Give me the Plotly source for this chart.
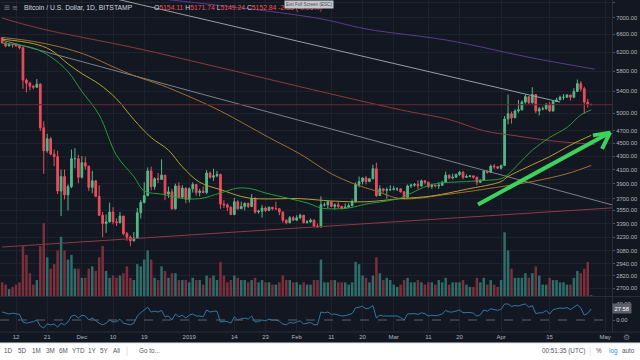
import pandas as pd
import plotly.graph_objects as go

# ---------------- data ----------------
dates = pd.date_range("2018-11-08", "2019-04-27", freq="D")

close_nov = [6410, 6340, 6370, 6360, 6340, 6300, 5620, 5560, 5500, 5480, 5540, 4750, 4380, 4570, 4330, 4290, 3800, 4000, 3750, 3860, 4260, 4260, 3990]
close_dec = [4200, 4150, 3850, 3940, 3730, 3490, 3390, 3410, 3530, 3410, 3400, 3480, 3270, 3230, 3190, 3220, 3520, 3650, 3740, 4080, 3860, 3970, 3960, 4020, 3760, 3790, 3570, 3870, 3720, 3840, 3690]
close_jan = [3830, 3890, 3780, 3800, 3780, 4050, 3990, 4010, 4030, 3630, 3620, 3590, 3500, 3660, 3570, 3600, 3640, 3600, 3700, 3530, 3540, 3580, 3550, 3590, 3570, 3570, 3530, 3430, 3400, 3460, 3430]
close_feb = [3460, 3490, 3400, 3410, 3430, 3360, 3350, 3620, 3620, 3660, 3600, 3620, 3600, 3580, 3590, 3610, 3660, 3890, 3930, 3980, 3930, 3970, 4110, 3740, 3830, 3810, 3820, 3820]
close_mar = [3830, 3830, 3790, 3720, 3870, 3880, 3890, 3870, 3940, 3920, 3860, 3880, 3870, 3880, 3920, 4020, 3980, 3990, 4030, 4060, 3990, 4000, 4010, 3990, 3920, 3950, 4080, 4060, 4150, 4140, 4120]
close_apr = [4160, 4900, 4990, 4920, 5040, 5060, 5200, 5300, 5190, 5340, 5040, 5080, 5080, 5160, 5040, 5210, 5240, 5290, 5290, 5330, 5290, 5400, 5550, 5450, 5200, 5155.17, 5152.84]

high_nov = [6540, 6430, 6400, 6390, 6400, 6350, 6320, 5650, 5590, 5520, 5640, 5560, 4860, 4650, 4600, 4400, 4380, 4100, 4100, 3890, 4400, 4420, 4320]
high_dec = [4300, 4290, 4150, 4080, 3950, 3880, 3530, 3500, 3650, 3590, 3450, 3530, 3480, 3290, 3250, 3290, 3580, 3680, 3920, 4130, 4140, 3990, 4050, 4250, 4020, 3860, 3830, 3900, 3920, 3880, 3850]
high_jan = [3850, 3920, 3890, 3830, 3860, 4090, 4070, 4110, 4080, 4040, 3680, 3640, 3600, 3710, 3680, 3660, 3650, 3650, 3760, 3720, 3560, 3620, 3600, 3600, 3590, 3660, 3580, 3530, 3440, 3480, 3480]
high_feb = [3490, 3510, 3490, 3430, 3450, 3440, 3390, 3730, 3650, 3670, 3660, 3640, 3660, 3610, 3640, 3640, 3690, 3920, 4000, 3990, 4010, 3980, 4170, 4200, 3880, 3840, 3850, 3880]
high_mar = [3870, 3850, 3840, 3800, 3890, 3900, 3910, 3950, 3960, 3950, 3930, 3900, 3890, 3920, 3940, 4070, 4030, 4040, 4040, 4080, 4080, 4030, 4020, 4010, 4000, 3960, 4090, 4080, 4170, 4180, 4150]
high_apr = [4170, 4950, 5340, 5030, 5070, 5240, 5230, 5340, 5300, 5480, 5340, 5110, 5120, 5180, 5200, 5230, 5280, 5320, 5350, 5350, 5340, 5460, 5630, 5600, 5490, 5260, 5171.74]

low_nov = [6390, 6310, 6330, 6300, 6320, 6260, 5450, 5380, 5420, 5440, 5470, 4700, 4040, 4350, 4310, 4150, 3760, 3480, 3690, 3550, 3840, 4120, 3910]
low_dec = [3970, 4100, 3800, 3770, 3720, 3480, 3230, 3280, 3400, 3380, 3360, 3390, 3250, 3190, 3130, 3180, 3210, 3450, 3640, 3730, 3810, 3820, 3910, 3960, 3680, 3710, 3560, 3560, 3700, 3700, 3640]
low_jan = [3650, 3780, 3740, 3730, 3770, 3760, 3970, 3940, 3990, 3570, 3580, 3540, 3490, 3490, 3560, 3570, 3550, 3580, 3590, 3510, 3510, 3460, 3530, 3540, 3550, 3560, 3490, 3400, 3380, 3390, 3420]
low_feb = [3420, 3440, 3390, 3390, 3400, 3350, 3340, 3340, 3600, 3580, 3590, 3560, 3580, 3560, 3570, 3590, 3600, 3650, 3850, 3890, 3890, 3920, 3960, 3720, 3740, 3780, 3700, 3800]
low_mar = [3810, 3800, 3780, 3690, 3710, 3840, 3860, 3830, 3860, 3890, 3840, 3830, 3850, 3830, 3870, 3920, 3960, 3960, 3980, 4010, 3960, 3980, 3990, 3970, 3880, 3910, 3940, 4040, 4060, 4110, 4110]
low_apr = [4100, 4150, 4810, 4820, 4920, 5010, 5050, 5170, 5160, 5170, 5000, 4960, 5050, 5060, 5020, 5030, 5200, 5240, 5240, 5280, 5230, 5270, 5390, 5400, 4990, 5100, 5149.24]

first_open = 6530
last_open = 5154.11

vol_nov = [6, 5, 3, 4, 5, 6, 22, 18, 10, 5, 7, 22, 32, 17, 12, 14, 20, 26, 20, 16, 18, 12, 12]
vol_dec = [8, 8, 12, 13, 11, 17, 22, 11, 8, 9, 8, 9, 10, 13, 8, 7, 14, 13, 16, 20, 16, 8, 7, 13, 11, 8, 10, 10, 7, 7, 7]
vol_jan = [6, 8, 7, 7, 5, 9, 8, 9, 7, 15, 9, 6, 7, 9, 8, 7, 7, 6, 7, 8, 6, 7, 6, 6, 5, 5, 6, 9, 7, 7, 6]
vol_feb = [6, 5, 6, 5, 5, 7, 7, 16, 6, 6, 7, 7, 6, 6, 6, 5, 6, 15, 14, 9, 8, 6, 9, 17, 10, 7, 8, 7]
vol_mar = [5, 4, 5, 7, 8, 6, 6, 7, 6, 5, 6, 6, 5, 7, 6, 8, 5, 6, 6, 6, 7, 5, 4, 4, 8, 6, 8, 5, 7, 5, 4]
vol_apr = [7, 28, 20, 12, 8, 8, 8, 10, 8, 10, 13, 9, 5, 5, 8, 7, 7, 6, 6, 5, 5, 8, 11, 10, 12, 15, 0.4]

osc_nov = [20, 18, 15, 17, 16, 14, -5, -8, -6, -4, 0, -15, -20, -10, -12, -10, -18, -8, -12, -5, 10, 12, 5]
osc_dec = [12, 10, 0, 5, -2, -8, -12, -8, 0, -5, -4, 2, -8, -10, -12, -8, 10, 18, 25, 32, 20, 22, 20, 24, 8, 10, 0, 15, 8, 12, 5]
osc_jan = [12, 15, 10, 10, 8, 25, 20, 22, 22, -5, -3, -4, -8, 8, 0, 3, 5, 2, 10, -5, -4, 0, -2, 2, 0, 0, -3, -10, -12, -6, -8]
osc_feb = [-5, -2, -10, -8, -6, -12, -12, 20, 18, 20, 14, 15, 12, 10, 11, 13, 16, 30, 32, 34, 28, 30, 36, 5, 12, 10, 10, 10]
osc_mar = [11, 10, 6, 0, 15, 16, 16, 14, 18, 16, 10, 12, 11, 12, 15, 24, 20, 20, 23, 25, 18, 19, 19, 17, 10, 13, 25, 22, 28, 26, 24]
osc_apr = [27, 40, 40, 34, 36, 35, 38, 40, 32, 36, 16, 18, 18, 24, 15, 26, 28, 30, 29, 31, 26, 33, 38, 30, 12, 17, 27.58]

# moving-average curves read at sparse dates
ma_fast_dates = ["2018-11-08", "2018-11-17", "2018-11-22", "2018-11-27", "2018-12-01", "2018-12-06", "2018-12-11", "2018-12-16", "2018-12-19", "2018-12-24", "2018-12-29", "2019-01-04", "2019-01-10", "2019-01-15", "2019-01-19", "2019-01-23", "2019-01-30", "2019-02-04", "2019-02-08", "2019-02-11", "2019-02-16", "2019-02-21", "2019-02-27", "2019-03-03", "2019-03-12", "2019-03-22", "2019-03-27", "2019-04-01", "2019-04-03", "2019-04-06", "2019-04-10", "2019-04-15", "2019-04-20", "2019-04-24", "2019-04-27"]
ma_fast = [6400, 6290, 6100, 5790, 5400, 4970, 4310, 4000, 3800, 3760, 3710, 3700, 3775, 3840, 3830, 3775, 3700, 3645, 3580, 3570, 3580, 3630, 3670, 3710, 3890, 3930, 3945, 3970, 4030, 4180, 4390, 4590, 4755, 4970, 5060]

ma_mid_dates = ["2018-11-08", "2018-11-17", "2018-11-22", "2018-11-27", "2018-12-01", "2018-12-06", "2018-12-11", "2018-12-16", "2018-12-21", "2018-12-26", "2018-12-30", "2019-01-04", "2019-01-10", "2019-01-18", "2019-02-02", "2019-02-11", "2019-02-21", "2019-03-03", "2019-03-12", "2019-03-22", "2019-04-01", "2019-04-03", "2019-04-10", "2019-04-15", "2019-04-20", "2019-04-24", "2019-04-27"]
ma_mid = [6490, 6390, 6250, 5950, 5750, 5540, 5260, 4890, 4590, 4390, 4140, 3920, 3820, 3710, 3700, 3670, 3660, 3700, 3735, 3825, 3930, 4000, 4170, 4290, 4440, 4550, 4625]

ma_slow_dates = ["2018-11-08", "2018-11-17", "2018-11-27", "2018-12-03", "2018-12-10", "2018-12-16", "2018-12-24", "2018-12-31", "2019-01-10", "2019-01-24", "2019-02-02", "2019-02-11", "2019-02-18", "2019-02-24", "2019-03-03", "2019-03-17", "2019-04-01", "2019-04-10", "2019-04-20", "2019-04-27"]
ma_slow = [6530, 6440, 6270, 6120, 5890, 5710, 5520, 5330, 5040, 4590, 4330, 4040, 3890, 3800, 3700, 3760, 3860, 3930, 4040, 4160]

ma_long_dates = ["2018-11-08", "2018-11-20", "2018-12-16", "2019-01-10", "2019-02-02", "2019-03-03", "2019-03-17", "2019-03-27", "2019-04-05", "2019-04-15", "2019-04-28"]
ma_long = [6990, 6720, 6300, 5870, 5490, 5060, 4890, 4700, 4620, 4540, 4480]

ma_purple_dates = ["2018-12-26", "2019-02-07", "2019-02-21", "2019-03-17", "2019-04-09", "2019-04-28"]
ma_purple = [7460, 6990, 6730, 6460, 6090, 5840]

# drawn trend lines (start/end)
trend_upper_dates = ["2018-12-09", "2019-04-18"]
trend_upper = [7520, 5200]
trend_mid_dates = ["2018-11-08", "2019-05-03"]
trend_mid = [6470, 3620]
trend_low_dates = ["2018-11-08", "2019-05-03"]
trend_low = [3120, 3582]

arrow_dates = ["2019-03-25 08:00", "2019-05-02 10:00"]
arrow_prices = [3625, 4670]
arrow_head_dates = ["2019-04-27 12:00", "2019-05-02 10:00", "2019-04-30 03:00"]
arrow_head_prices = [4625, 4670, 4410]

price_ticks = [7400, 7000, 6600, 6200, 5800, 5400, 5000, 4700, 4500, 4300, 4100, 3900, 3700, 3550, 3390, 3230, 3080, 2940, 2820, 2700]
x_tick_dates = ["2018-11-12", "2018-11-21", "2018-12-01", "2018-12-10", "2018-12-19", "2019-01-01", "2019-01-14", "2019-01-23", "2019-02-01", "2019-02-11", "2019-02-20", "2019-03-01", "2019-03-11", "2019-03-20", "2019-04-01", "2019-04-15", "2019-05-01"]
x_tick_text = ["12", "21", "Dec", "10", "19", "2019", "14", "23", "Feb", "11", "20", "Mar", "11", "20", "Apr", "15", "May"]

# ---------------- assemble ----------------
closes = close_nov + close_dec + close_jan + close_feb + close_mar + close_apr
highs = high_nov + high_dec + high_jan + high_feb + high_mar + high_apr
lows = low_nov + low_dec + low_jan + low_feb + low_mar + low_apr
opens = [first_open] + closes[:-1]
opens[-1] = last_open
vols = vol_nov + vol_dec + vol_jan + vol_feb + vol_mar + vol_apr
osc = osc_nov + osc_dec + osc_jan + osc_feb + osc_mar + osc_apr

UP = "#53b987"
DN = "#eb4d5c"
VUP = "#2d6e6a"
VDN = "#7c2f3b"
BG = "#131722"
GRID = "#1e222d"
TXT = "#b2b5be"
FONT = "Liberation Sans"

fig = go.Figure()

fig.add_trace(go.Bar(x=dates, y=vols, yaxis="y3",
                     marker=dict(color=[VUP if c >= o else VDN for o, c in zip(opens, closes)], line=dict(width=0)),
                     width=86400000 * 0.72, hoverinfo="skip"))

for dx, dy, col, w in [
    (trend_low_dates, trend_low, "#8a3b44", 1),
    (trend_mid_dates, trend_mid, "#7d808a", 1),
    (trend_upper_dates, trend_upper, "#9a9ca5", 1),
]:
    fig.add_trace(go.Scatter(x=dx, y=dy, mode="lines", line=dict(color=col, width=w), hoverinfo="skip"))

for dx, dy, col in [
    (ma_purple_dates, ma_purple, "#5b3a8e"),
    (ma_long_dates, ma_long, "#8c3b3b"),
    (ma_slow_dates, ma_slow, "#a0702c"),
    (ma_mid_dates, ma_mid, "#b3a12f"),
    (ma_fast_dates, ma_fast, "#2a9a38"),
]:
    fig.add_trace(go.Scatter(x=dx, y=dy, mode="lines", line=dict(color=col, width=1, shape="spline", smoothing=1.0), hoverinfo="skip"))

fig.add_trace(go.Candlestick(x=dates, open=opens, high=highs, low=lows, close=closes,
                             increasing=dict(line=dict(color=UP, width=1), fillcolor=UP),
                             decreasing=dict(line=dict(color=DN, width=1), fillcolor=DN),
                             whiskerwidth=0, hoverinfo="skip"))

fig.add_trace(go.Scatter(x=arrow_dates, y=arrow_prices, mode="lines", line=dict(color="#3cd25c", width=4), hoverinfo="skip"))
fig.add_trace(go.Scatter(x=arrow_head_dates, y=arrow_head_prices, mode="lines", line=dict(color="#3cd25c", width=4), hoverinfo="skip"))

fig.add_trace(go.Scatter(x=dates, y=osc, yaxis="y2", mode="lines", line=dict(color="#2f78a6", width=1), hoverinfo="skip"))

last_close = closes[-1]

shapes = [
    dict(type="line", xref="paper", yref="y", x0=0, x1=1, y0=last_close, y1=last_close, line=dict(color="#6a2630", width=1)),
    dict(type="line", xref="paper", yref="y2", x0=0, x1=1, y0=0, y1=0, line=dict(color="#5d606b", width=1, dash="dash")),
    dict(type="line", xref="paper", yref="paper", x0=0, x1=640 / 612, y0=1 - 296.5 / 360, y1=1 - 296.5 / 360, line=dict(color="#2a2e39", width=1)),
    dict(type="line", xref="paper", yref="paper", x0=0, x1=640 / 612, y0=1 - 332 / 360, y1=1 - 332 / 360, line=dict(color="#2a2e39", width=1)),
    dict(type="rect", xref="paper", yref="paper", x0=-0.01, x1=645 / 612, y0=-0.01, y1=17 / 360, fillcolor="#ffffff", line=dict(width=0), layer="above"),
    dict(type="line", xref="paper", yref="paper", x0=0, x1=640 / 612, y0=17 / 360, y1=17 / 360, line=dict(color="#dfe2ea", width=1)),
    dict(type="line", xref="paper", yref="paper", x0=127 / 612, x1=127 / 612, y0=4 / 360, y1=13 / 360, line=dict(color="#dfe2ea", width=1)),
    dict(type="line", xref="paper", yref="paper", x0=590 / 612, x1=590 / 612, y0=4 / 360, y1=13 / 360, line=dict(color="#dfe2ea", width=1)),
]

def pyp(py):
    return 1 - py / 360

annotations = [
    dict(xref="paper", yref="paper", x=2 / 612, y=pyp(7.5), xanchor="left", yanchor="middle", showarrow=False,
         text="⊞ ≡", font=dict(size=7, color="#787b86", family="DejaVu Sans")),
    dict(xref="paper", yref="paper", x=22 / 612, y=pyp(7.5), xanchor="left", yanchor="middle", showarrow=False,
         text="Bitcoin / U.S. Dollar, 1D, BITSTAMP", font=dict(size=6.8, color="#d1d4dc", family=FONT)),
    dict(xref="paper", yref="paper", x=152 / 612, y=pyp(7.5), xanchor="left", yanchor="middle", showarrow=False,
         text=("O<span style='color:#ef5350'>5154.11</span> H<span style='color:#ef5350'>5171.74</span> "
               "L<span style='color:#ef5350'>5149.24</span> C<span style='color:#ef5350'>5152.84</span> "
               "<span style='color:#ef5350'>-2.33 (-0.05%)</span>"),
         font=dict(size=6.8, color="#d1d4dc", family=FONT)),
    dict(xref="paper", yref="paper", x=284 / 612, y=pyp(4.5), xanchor="left", yanchor="middle", showarrow=False,
         text="Exit Full Screen (ESC)", bgcolor="#c3c6cc", borderpad=1, font=dict(size=4.6, color="#4a4e57", family=FONT)),
    dict(xref="paper", yref="y", x=1, y=last_close, xanchor="left", yanchor="middle", showarrow=False,
         text="5152.84", bgcolor="#ef5350", borderpad=1.5, font=dict(size=5.8, color="#ffffff", family=FONT)),
    dict(xref="paper", yref="y2", x=1, y=osc[-1], xanchor="left", yanchor="middle", showarrow=False,
         text="27.58", bgcolor="#5d606b", borderpad=1.5, font=dict(size=5.8, color="#ffffff", family=FONT)),
    dict(xref="paper", yref="paper", x=626 / 612, y=pyp(337), xanchor="center", yanchor="middle", showarrow=False,
         text="⚙", font=dict(size=8, color="#787b86", family="DejaVu Sans")),
]

for label, px in [("1D", 8), ("5D", 22), ("1M", 36), ("3M", 50), ("6M", 63), ("YTD", 78), ("1Y", 92), ("5Y", 104), ("All", 116), ("Go to...", 149),
                  ("00:51:35 (UTC)", 563), ("%", 599), ("log", 613), ("auto", 628)]:
    annotations.append(dict(xref="paper", yref="paper", x=px / 612, y=pyp(350.5), xanchor="center", yanchor="middle", showarrow=False,
                            text=label, font=dict(size=6.3, color="#2196f3" if label == "log" else "#50535e", family=FONT)))

fig.update_layout(
    width=640, height=360,
    margin=dict(l=0, r=28, t=0, b=0),
    paper_bgcolor=BG, plot_bgcolor=BG,
    showlegend=False, bargap=0.25,
    shapes=shapes, annotations=annotations,
    font=dict(family=FONT, color=TXT),
    xaxis=dict(domain=[0, 1], anchor="y2", range=["2018-11-07 09:00", "2019-05-03 00:00"],
               tickvals=x_tick_dates, ticktext=x_tick_text, tickfont=dict(size=6, color=TXT, family=FONT),
               showgrid=True, gridcolor=GRID, gridwidth=1, zeroline=False, showline=False, ticks="",
               rangeslider=dict(visible=False), fixedrange=True),
    yaxis=dict(domain=[1 - 296 / 360, 1], type="log", range=[3.4192, 3.8723], side="right",
               tickvals=price_ticks, ticktext=[f"{v:.2f}" for v in price_ticks],
               tickfont=dict(size=5.8, color=TXT, family=FONT), showgrid=True, gridcolor=GRID,
               ticks="outside", ticklen=2, tickcolor="#50535e", showline=True, linecolor="#2a2e39", zeroline=False),
    yaxis2=dict(domain=[1 - 332 / 360, 1 - 297 / 360], range=[-30, 57.5], side="right", anchor="x",
                tickvals=[0, 40], ticktext=["0.00", "40.00"], tickfont=dict(size=5.8, color=TXT, family=FONT),
                showgrid=False, zeroline=False, ticks="outside", ticklen=2, tickcolor="#50535e",
                showline=True, linecolor="#2a2e39"),
    yaxis3=dict(overlaying="y", range=[0, 130], visible=False),
)

fig.write_html("out.html", config={"displayModeBar": False, "staticPlot": True},
               post_script="document.body.style.margin='0';document.body.style.overflow='hidden';")
